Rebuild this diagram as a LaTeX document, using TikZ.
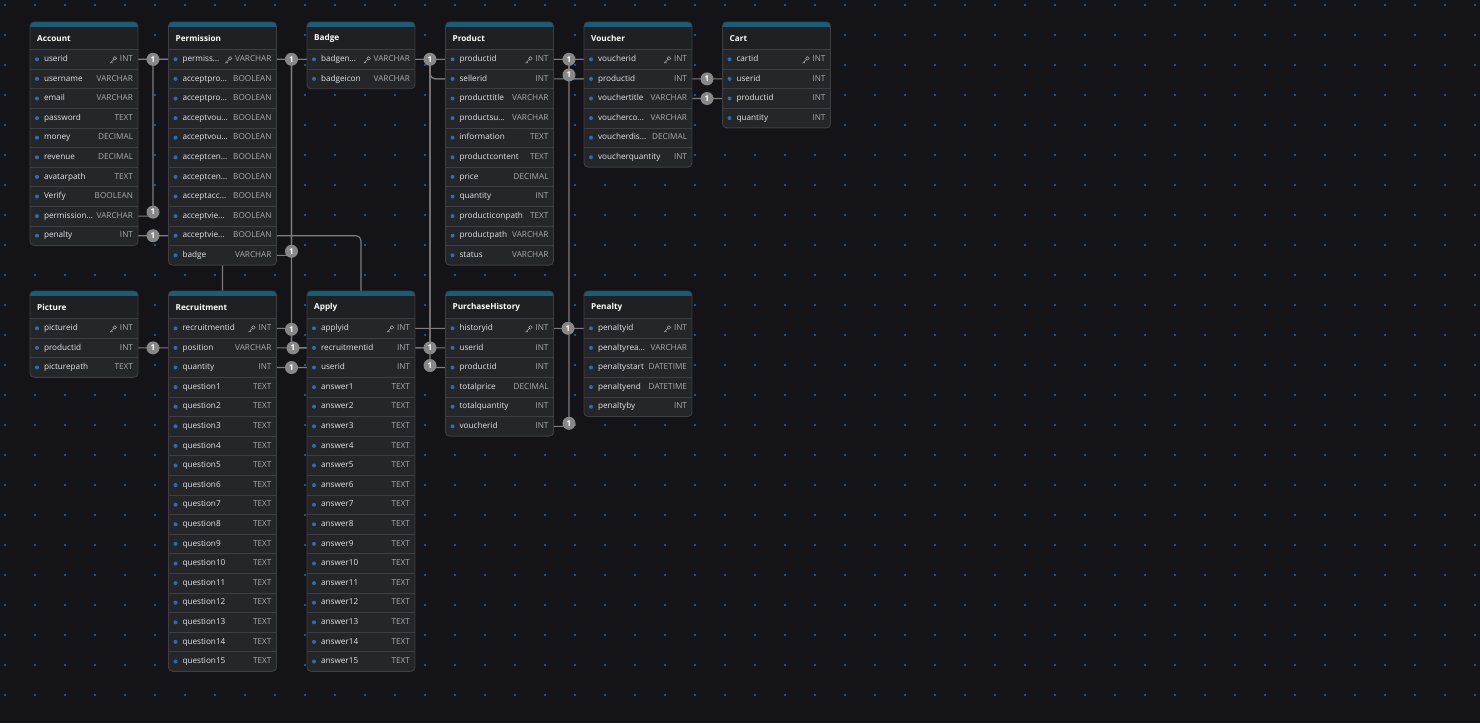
\documentclass[tikz,border=0pt]{standalone}
\usepackage{fontspec}
\setmainfont{Open Sans}
\usetikzlibrary{calc}

\definecolor{canvas}{RGB}{20,20,24}
\definecolor{griddot}{RGB}{36,82,130}
\definecolor{cardfill}{RGB}{37,38,42}
\definecolor{titlefill}{RGB}{31,32,36}
\definecolor{cardedge}{RGB}{62,63,68}
\definecolor{headteal}{RGB}{24,94,122}
\definecolor{fieldtext}{RGB}{228,228,230}
\definecolor{typetext}{RGB}{170,171,175}
\definecolor{fielddotc}{RGB}{55,105,175}
\definecolor{linkgray}{RGB}{125,125,128}
\definecolor{badgegray}{RGB}{135,135,138}

\pgfdeclarelayer{bg}
\pgfdeclarelayer{links}
\pgfsetlayers{bg,links,main}

\newcommand{\fieldfont}{\fontsize{8.2}{9.8}\selectfont}

\tikzset{
  tabletitle/.style={anchor=west, inner sep=0pt, text=white, font=\fieldfont\bfseries},
  fieldrow/.style={anchor=north west, inner sep=0pt, outer sep=0pt, minimum width=108pt,
    minimum height=19.6pt, text height=6pt, text depth=1.8pt, font=\fieldfont},
  fieldtype/.style={anchor=east, inner sep=0pt, outer sep=0pt, text height=6pt,
    text depth=1.8pt, text=typetext, font=\fieldfont},
  rowline/.style={draw=cardedge, line width=0.8pt},
  cardedgeline/.style={draw=cardedge, line width=0.9pt, rounded corners=4pt},
  keyicon/.style={draw=typetext, line width=0.5pt},
  link/.style={draw=linkgray, line width=1.1pt, rounded corners=5pt},
  onebadge/.style={circle, fill=badgegray, inner sep=0pt, minimum size=13pt, text=white,
    font=\fontsize{8}{8}\selectfont\bfseries},
}

% id, title, x, y, number of rows, name/type list
\newcommand{\erdtable}[6]{%
  \pgfmathsetmacro{\tabh}{27.5+19.6*#5}
  \begin{scope}
    \clip[rounded corners=4pt] (#3,#4) rectangle ++(108,\tabh);
    \fill[cardfill] (#3,#4) rectangle ++(108,\tabh);
    \fill[titlefill] (#3,#4) rectangle ++(108,27.5);
    \fill[headteal] (#3,#4) rectangle ++(108,4.5);
  \end{scope}
  \node[tabletitle] (#1) at (#3+7,#4+16.5) {#2};
  \foreach \fname/\ftype [count=\i] in {#6} {
    \node[fieldrow] (#1-\i) at (#3,{#4+27.5+19.6*(\i-1)})
      {\hbox to 108pt{\hspace{14pt}\textcolor{fieldtext}{\fname}\hfill}};
    \node[fieldtype] (#1-\i-t) at ([xshift=-5pt]#1-\i.east) {\ftype};
    \draw[rowline] (#1-\i.north west) -- (#1-\i.north east);
    \fill[fielddotc] ([xshift=7pt]#1-\i.west) circle (2pt);
    \ifnum\i=1
      \draw[keyicon] ([xshift=-6.5pt,yshift=-0.5pt]#1-\i-t.west) ++(1.4,-1.4) circle (1.8pt)
        ++(-1.3,1.3) -- ++(-3.6,3.6) ++(1.4,-1.4) -- ++(1.2,1.2);
    \fi
  }
  \draw[cardedgeline] (#3,#4) rectangle ++(108,\tabh);
}

\begin{document}
\begin{tikzpicture}[x=1pt, y=-1pt]
\useasboundingbox (0,0) rectangle (1480,723);

\erdtable{account}{Account}{30}{22}{10}{userid/INT, username/VARCHAR, email/VARCHAR,
  password/TEXT, money/DECIMAL, revenue/DECIMAL, avatarpath/TEXT, Verify/BOOLEAN,
  permission…/VARCHAR, penalty/INT}
\erdtable{permission}{Permission}{168.5}{22}{11}{permiss…/VARCHAR, acceptpro…/BOOLEAN,
  acceptpro…/BOOLEAN, acceptvou…/BOOLEAN, acceptvou…/BOOLEAN, acceptcen…/BOOLEAN,
  acceptcen…/BOOLEAN, acceptacc…/BOOLEAN, acceptvie…/BOOLEAN, acceptvie…/BOOLEAN,
  badge/VARCHAR}
\erdtable{badge}{Badge}{307}{22}{2}{badgen…/VARCHAR, badgeicon/VARCHAR}
\erdtable{product}{Product}{445.5}{22}{11}{productid/INT, sellerid/INT,
  producttitle/VARCHAR, productsu…/VARCHAR, information/TEXT, productcontent/TEXT,
  price/DECIMAL, quantity/INT, producticonpath/TEXT, productpath/VARCHAR, status/VARCHAR}
\erdtable{voucher}{Voucher}{584}{22}{6}{voucherid/INT, productid/INT,
  vouchertitle/VARCHAR, voucherco…/VARCHAR, voucherdis…/DECIMAL, voucherquantity/INT}
\erdtable{cart}{Cart}{722.5}{22}{4}{cartid/INT, userid/INT, productid/INT, quantity/INT}

\erdtable{picture}{Picture}{30}{291}{3}{pictureid/INT, productid/INT, picturepath/TEXT}
\erdtable{recruitment}{Recruitment}{168.5}{291}{18}{recruitmentid/INT, position/VARCHAR,
  quantity/INT, question1/TEXT, question2/TEXT, question3/TEXT, question4/TEXT,
  question5/TEXT, question6/TEXT, question7/TEXT, question8/TEXT, question9/TEXT,
  question10/TEXT, question11/TEXT, question12/TEXT, question13/TEXT, question14/TEXT,
  question15/TEXT}
\erdtable{apply}{Apply}{307}{291}{18}{applyid/INT, recruitmentid/INT, userid/INT,
  answer1/TEXT, answer2/TEXT, answer3/TEXT, answer4/TEXT, answer5/TEXT, answer6/TEXT,
  answer7/TEXT, answer8/TEXT, answer9/TEXT, answer10/TEXT, answer11/TEXT, answer12/TEXT,
  answer13/TEXT, answer14/TEXT, answer15/TEXT}
\erdtable{purchasehistory}{PurchaseHistory}{445.5}{291}{6}{historyid/INT, userid/INT,
  productid/INT, totalprice/DECIMAL, totalquantity/INT, voucherid/INT}
\erdtable{penalty}{Penalty}{584}{291}{5}{penaltyid/INT, penaltyrea…/VARCHAR,
  penaltystart/DATETIME, penaltyend/DATETIME, penaltyby/INT}

\coordinate (gapA) at (153,0);
\coordinate (gapB) at (291.5,0);
\coordinate (gapC) at (430,0);
\coordinate (gapD) at (569,0);
\coordinate (gapE) at (707,0);

\begin{pgfonlayer}{links}
  \draw[link] (account-9.east) -- (gapA |- account-9) -- (gapA |- permission-1) -- (permission-1.west);
  \draw[link] (account-10.east) -- (apply-1 |- account-10) -- (apply-1 |- penalty-1) -- (penalty-1.west);
  \draw[link] (permission-11.east) -- (gapB |- permission-11) -- (gapB |- badge-1) -- (badge-1.west);
  \draw[link] (product-2.west) -- (gapC |- product-2) -- (gapC |- account-1) -- (account-1.east);
  \draw[link] (cart-2.west) -- (gapC |- cart-2) -- (gapC |- account-1) -- (account-1.east);
  \draw[link] (cart-3.west) -- (voucher-3 |- cart-3) -- (voucher-3 |- product-1) -- (product-1.east);
  \draw[link] (voucher-2.west) -- (gapD |- voucher-2) -- (gapD |- product-1) -- (product-1.east);
  \draw[link] (purchasehistory-6.east) -- (gapD |- purchasehistory-6) -- (gapD |- voucher-1) -- (voucher-1.west);
  \draw[link] (picture-2.east) -- (gapC |- picture-2) -- (gapC |- product-1) -- (product-1.west);
  \draw[link] (purchasehistory-2.west) -- (gapB |- purchasehistory-2) -- (gapB |- account-1) -- (account-1.east);
  \draw[link] (purchasehistory-3.west) -- (gapC |- purchasehistory-3) -- (gapC |- product-1) -- (product-1.west);
  \draw[link] (apply-2.west) -- (gapB |- apply-2) -- (gapB |- recruitment-1) -- (recruitment-1.east);
  \draw[link] (apply-3.west) -- (recruitment-1 |- apply-3) -- (recruitment-1 |- account-1) -- (account-1.east);

  \node[onebadge] (one1) at (gapA |- permission-1) {1};
  \node[onebadge] (one2) at ($(gapA |- account-9)+(0,-4)$) {1};
  \node[onebadge] (one3) at (gapA |- account-10) {1};
  \node[onebadge] (one4) at (gapA |- picture-2) {1};
  \node[onebadge] (one5) at (gapB |- badge-1) {1};
  \node[onebadge] (one6) at ($(gapB |- permission-11)+(0,-4)$) {1};
  \node[onebadge] (one7) at ($(gapB |- recruitment-1)+(0,1)$) {1};
  \node[onebadge] (one8) at ($(gapB |- apply-2)+(1.5,0)$) {1};
  \node[onebadge] (one9) at (gapB |- apply-3) {1};
  \node[onebadge] (one10) at (gapC |- product-1) {1};
  \node[onebadge] (one11) at (gapC |- purchasehistory-2) {1};
  \node[onebadge] (one12) at ($(gapC |- purchasehistory-3)+(0,-2)$) {1};
  \node[onebadge] (one13) at (gapD |- voucher-1) {1};
  \node[onebadge] (one14) at ($(gapD |- voucher-2)+(0,-4)$) {1};
  \node[onebadge] (one15) at ($(gapD |- penalty-1)+(-1,0)$) {1};
  \node[onebadge] (one16) at ($(gapD |- purchasehistory-6)+(0,-3)$) {1};
  \node[onebadge] (one17) at (gapE |- cart-2) {1};
  \node[onebadge] (one18) at (gapE |- cart-3) {1};
\end{pgfonlayer}

\begin{pgfonlayer}{bg}
  \fill[canvas] (0,0) rectangle (1480,723);
  \foreach \gx in {0,...,49}
    \foreach \gy in {0,...,23}
      \fill[griddot] ({5+30*\gx-0.8},{4.7+30*\gy-0.8}) rectangle ++(1.6,1.6);
\end{pgfonlayer}
\end{tikzpicture}
\end{document}
